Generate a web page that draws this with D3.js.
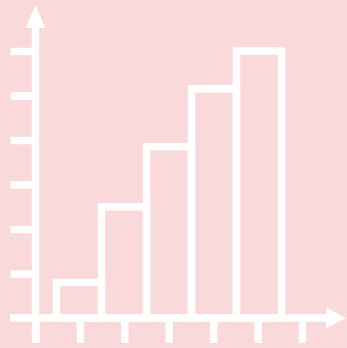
<!DOCTYPE html>
<meta charset="utf-8">
<style>
body { margin: 0; background: #f9d9d9; }
svg { display: block; }
.axis line, .axis path { stroke: #fff; }
</style>
<body>
<script src="https://cdn.jsdelivr.net/npm/d3@7"></script>
<script>
// bar values
var bars = ["A", "B", "C", "D", "E"];
var values = [0.8, 2.5, 3.85, 5.15, 6];
// tick marks (no labels in the original)
var yTicks = [1, 2, 3, 4, 5, 6];
var xTicks = [0, 1, 2, 3, 4, 5, 6];

var width = 347, height = 348;
var bg = "#f9d9d9", ink = "#fff", sw = 7.5;

var svg = d3.select("body").append("svg")
    .attr("width", width)
    .attr("height", height);

svg.append("rect").attr("width", width).attr("height", height).attr("fill", bg);

// y = 0 sits on the x axis line
var y = d3.scaleLinear().domain([0, 6]).range([318, 51]);
// tick scale for the little marks under the x axis
var xt = d3.scaleLinear().domain([0, 6]).range([35.5, 302]);
// bars
var xb = d3.scaleBand().domain(bars).range([56.5, 281.5]).padding(0);

svg.selectAll(".bar")
    .data(values)
    .enter().append("rect")
    .attr("class", "bar")
    .attr("x", function(d, i) { return xb(bars[i]); })
    .attr("y", function(d) { return y(d); })
    .attr("width", xb.bandwidth())
    .attr("height", function(d) { return y(0) - y(d); })
    .attr("fill", "none")
    .attr("stroke", ink)
    .attr("stroke-width", sw);

// y axis ticks pointing left
var yAxis = d3.axisLeft(y).tickValues(yTicks).tickSize(25).tickFormat("");
svg.append("g")
    .attr("class", "axis")
    .attr("transform", "translate(35.5,0)")
    .call(yAxis)
    .call(function(g) { g.select(".domain").remove(); })
    .selectAll("line").attr("stroke-width", sw);

// x axis ticks pointing down
var xAxis = d3.axisBottom(xt).tickValues(xTicks).tickSize(25).tickFormat("");
svg.append("g")
    .attr("class", "axis")
    .attr("transform", "translate(0,318)")
    .call(xAxis)
    .call(function(g) { g.select(".domain").remove(); })
    .selectAll("line").attr("stroke-width", sw);

// main axis lines
svg.append("line")
    .attr("x1", 35.5).attr("x2", 35.5)
    .attr("y1", 343).attr("y2", 20)
    .attr("stroke", ink).attr("stroke-width", sw);
svg.append("line")
    .attr("x1", 10).attr("x2", 332)
    .attr("y1", 318).attr("y2", 318)
    .attr("stroke", ink).attr("stroke-width", sw);

// arrow heads
svg.append("path")
    .attr("d", "M35.5,5 L45.5,28 L25.5,28 Z")
    .attr("fill", ink);
svg.append("path")
    .attr("d", "M346,318 L326,307.5 L326,328.5 Z")
    .attr("fill", ink);
</script>
</body>
